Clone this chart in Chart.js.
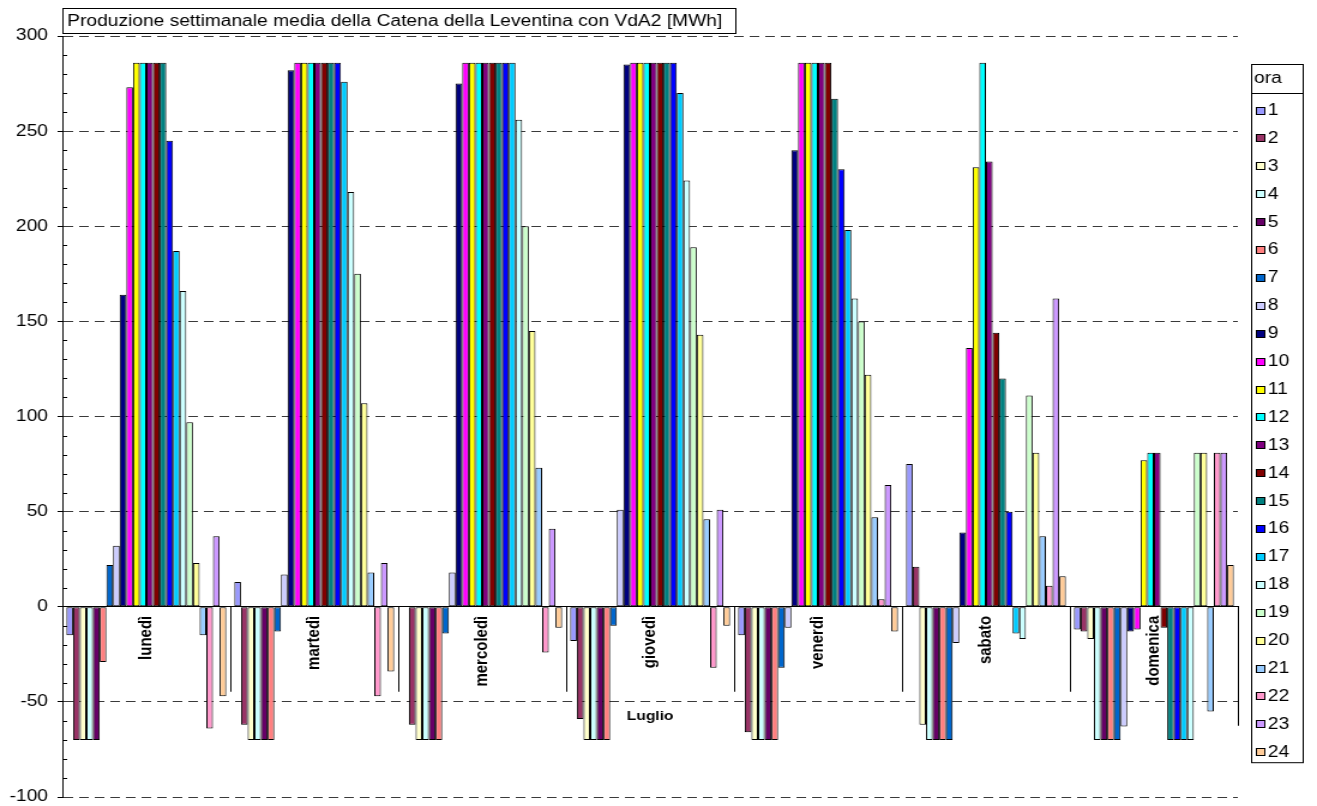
<!DOCTYPE html>
<html>
<head>
<meta charset="utf-8">
<script src="https://cdn.jsdelivr.net/npm/chart.js@4/dist/chart.umd.min.js"></script>
<style>
  html, body { margin: 0; padding: 0; background: #fff; overflow: hidden; }
  #c { display: block; }
</style>
</head>
<body>
<!-- drawn at 1098 px and shown 1317 px wide (wide, flat look of the chart) -->
<canvas id="c" width="1098" height="806" style="width:1317px;height:806px"></canvas>
<script>
// Categories (days of the week) and series (hours of the day)
const days = ['lunedì', 'martedì', 'mercoledì', 'giovedì', 'venerdì', 'sabato', 'domenica'];
const hours = ['1','2','3','4','5','6','7','8','9','10','11','12','13','14','15','16','17','18','19','20','21','22','23','24'];

// Average weekly production per hour [MWh], one array per day (hour 1 .. hour 24)
const lunedi    = [-15, -70, -70, -70, -70, -29,  22,  32, 164, 273, 286, 286, 286, 286, 286, 245, 187, 166,  97,  23, -15, -64,  37, -47];
const martedi   = [ 13, -62, -70, -70, -70, -70, -13,  17, 282, 286, 286, 286, 286, 286, 286, 286, 276, 218, 175, 107,  18, -47,  23, -34];
const mercoledi = [  0, -62, -70, -70, -70, -70, -14,  18, 275, 286, 286, 286, 286, 286, 286, 286, 286, 256, 200, 145,  73, -24,  41, -11];
const giovedi   = [-18, -59, -70, -70, -70, -70, -10,  51, 285, 286, 286, 286, 286, 286, 286, 286, 270, 224, 189, 143,  46, -32,  51, -10];
const venerdi   = [-15, -66, -70, -70, -70, -70, -32, -11, 240, 286, 286, 286, 286, 286, 267, 230, 198, 162, 150, 122,  47,   4,  64, -13];
const sabato    = [ 75,  21, -62, -70, -70, -70, -70, -19,  39, 136, 231, 286, 234, 144, 120,  50, -14, -17, 111,  81,  37,  11, 162,  16];
const domenica  = [-12, -13, -17, -70, -70, -70, -70, -63, -13, -12,  77,  81,  81, -11, -70, -70, -70, -70,  81,  81, -55,  81,  81,  22];

// Value axis ticks
const yTicks = [300, 250, 200, 150, 100, 50, 0, -50, -100];

// Series colours (classic spreadsheet palette)
const hourColors = [
  '#9999FF', '#993366', '#FFFFCC', '#CCFFFF', '#660066', '#FF8080',
  '#0066CC', '#CCCCFF', '#000080', '#FF00FF', '#FFFF00', '#00FFFF',
  '#800080', '#800000', '#008080', '#0000FF', '#00CCFF', '#CCFFFF',
  '#CCFFCC', '#FFFF99', '#99CCFF', '#FF99CC', '#CC99FF', '#FFCC99'
];

const FONT = "'Liberation Sans', Arial, Helvetica, sans-serif";
const byDay = [lunedi, martedi, mercoledi, giovedi, venerdi, sabato, domenica];

const datasets = hours.map((h, i) => ({
  label: h,
  data: byDay.map(d => d[i]),
  backgroundColor: hourColors[i],
  borderColor: '#000',
  borderWidth: 1,
  borderSkipped: false,
  categoryPercentage: 0.952,
  barPercentage: 1.0
}));

// Extra decorations: title box, minor ticks, category separators, month label, legend box
const decorations = {
  id: 'decorations',
  afterDraw(chart) {
    const ctx = chart.ctx;
    const xs = chart.scales.x;
    const ys = chart.scales.y;
    const area = chart.chartArea;
    const zero = ys.getPixelForValue(0);

    ctx.save();
    ctx.strokeStyle = '#000';
    ctx.lineWidth = 1;
    ctx.setLineDash([]);

    // minor ticks every 10 on the value axis (inside)
    for (let v = -100; v <= 300; v += 10) {
      if (v % 50 === 0) continue;
      const y = Math.round(ys.getPixelForValue(v)) + 0.5;
      ctx.beginPath();
      ctx.moveTo(area.left, y);
      ctx.lineTo(area.left + 4, y);
      ctx.stroke();
    }

    // separators between day groups, below the zero line
    for (let k = 1; k <= days.length; k++) {
      const x = Math.round(xs.getPixelForValue(k - 0.5)) + 0.5;
      const len = k === days.length ? 119 : 85;
      ctx.beginPath();
      ctx.moveTo(x, zero);
      ctx.lineTo(x, zero + len);
      ctx.stroke();
    }

    // month label under the day labels
    ctx.fillStyle = '#000';
    ctx.font = 'bold 13px ' + FONT;
    ctx.textAlign = 'center';
    ctx.textBaseline = 'middle';
    ctx.fillText('Luglio', (area.left + area.right) / 2, zero + 110);

    // title in a framed box
    ctx.fillStyle = '#fff';
    ctx.fillRect(52.5, 8.5, 561, 25);
    ctx.strokeRect(52.5, 8.5, 561, 25);
    ctx.fillStyle = '#000';
    ctx.font = '16px ' + FONT;
    ctx.textAlign = 'left';
    ctx.textBaseline = 'middle';
    ctx.fillText('Produzione settimanale media della Catena della Leventina con VdA2 [MWh]', 56, 21.5);

    // legend box with title "ora"
    const lx = 1043.5, ly = 64.5, lw = 43;
    const first = 110, step = 27.9;
    const n = chart.data.datasets.length;
    const lh = (first + step * (n - 1) + 11) - ly;
    ctx.fillStyle = '#fff';
    ctx.fillRect(lx, ly, lw, lh);
    ctx.strokeRect(lx, ly, lw, lh);
    ctx.beginPath();
    ctx.moveTo(lx, 93.5);
    ctx.lineTo(lx + lw, 93.5);
    ctx.stroke();
    ctx.fillStyle = '#000';
    ctx.font = '16px ' + FONT;
    ctx.fillText('ora', lx + 2, 79);
    chart.data.datasets.forEach((ds, i) => {
      const cy = first + step * i;
      const top = Math.round(cy - 3.5) + 0.5;
      ctx.fillStyle = ds.backgroundColor;
      ctx.fillRect(1047.5, top, 7, 7);
      ctx.strokeStyle = '#000';
      ctx.strokeRect(1047.5, top, 7, 7);
      ctx.fillStyle = '#000';
      ctx.fillText(ds.label, 1057, cy + 0.5);
    });

    ctx.restore();
  }
};

new Chart(document.getElementById('c'), {
  type: 'bar',
  data: { labels: days, datasets },
  options: {
    responsive: false,
    animation: false,
    devicePixelRatio: 1,
    layout: { padding: { left: 0, right: 66, top: 36, bottom: 9 } },
    plugins: {
      legend: { display: false },
      title: { display: false },
      tooltip: { enabled: false }
    },
    scales: {
      x: {
        type: 'category',
        position: { y: 0 },
        offset: true,
        grid: { display: false, drawTicks: false },
        border: { display: true, color: '#000', width: 1 },
        ticks: {
          autoSkip: false,
          minRotation: 90,
          maxRotation: 90,
          padding: 9,
          color: '#000',
          font: { family: FONT, size: 15, weight: 'bold' }
        }
      },
      y: {
        min: -100,
        max: 300,
        afterBuildTicks: s => { s.ticks = yTicks.map(v => ({ value: v })); },
        afterFit: s => { s.width = 52; s.paddingTop = 0; s.paddingBottom = 0; },
        grid: {
          color: '#3a3a3a',
          lineWidth: 1,
          drawTicks: true,
          tickLength: 4,
          tickColor: '#000',
          tickBorderDash: []
        },
        border: { display: true, color: '#000', width: 1, dash: [8, 5] },
        ticks: {
          padding: 8,
          color: '#000',
          font: { family: FONT, size: 16, lineHeight: 1 }
        }
      }
    }
  },
  plugins: [decorations]
});
</script>
</body>
</html>
